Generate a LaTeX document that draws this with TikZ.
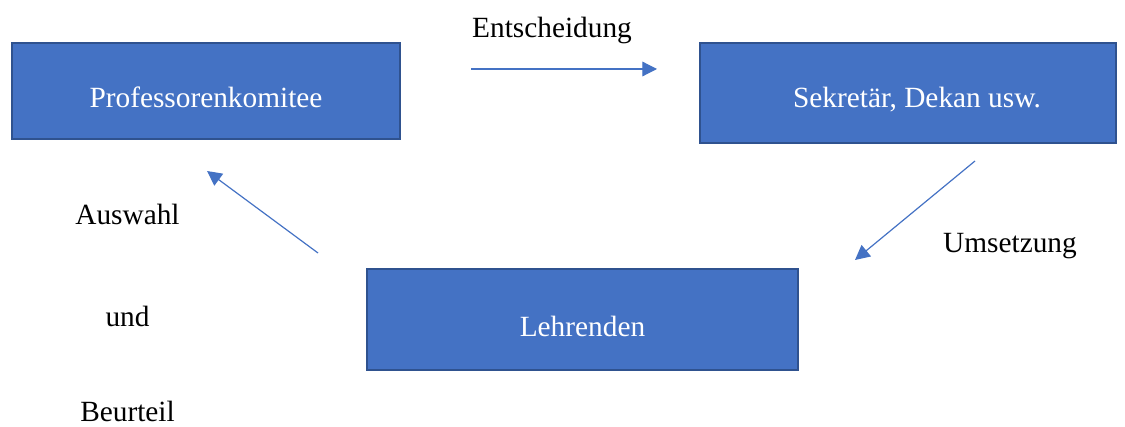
\documentclass[tikz,border=0pt]{standalone}
\usepackage{fontspec}
\setmainfont{Liberation Serif}
\usetikzlibrary{arrows.meta}
\definecolor{boxfill}{HTML}{4472C4}
\definecolor{boxline}{HTML}{2F528F}
\begin{document}
\begin{tikzpicture}[x=0.75pt,y=-0.75pt,
  unit/.style={draw=boxline, line width=1.5pt, fill=boxfill, text=white,
    inner sep=0pt, text depth=0pt, font=\fontsize{22}{26}\selectfont},
  lbl/.style={inner sep=0pt, anchor=base, font=\fontsize{22}{26}\selectfont},
  flow/.style={draw=boxfill, line width=0.9pt,
    -{Triangle[length=11pt,width=11pt]}}]
\useasboundingbox (0,0) rectangle (1125,427);
% the three boxes
\node[unit, text height=25.5pt, minimum width=388*0.75pt, minimum height=96*0.75pt] (prof) at (206,91) {Professorenkomitee};
\node[unit, text height=22.5pt, minimum width=416*0.75pt, minimum height=100*0.75pt] (sek) at (908,93) {\hspace*{13.5pt}Sekretär, Dekan usw.};
\node[unit, text height=25pt, minimum width=431*0.75pt, minimum height=101*0.75pt] (lehr) at (582.5,319.5) {Lehrenden};
% free arrow ends
\coordinate (a1s) at (471,69);
\coordinate (a1e) at (657,69);
\coordinate (a2s) at (975,161);
\coordinate (a2e) at (855,260);
\coordinate (a3s) at (318,253);
\coordinate (a3e) at (207,171);
\draw[flow] (a1s) -- (a1e);
\draw[flow] (a2s) -- (a2e);
\draw[flow] (a3s) -- (a3e);
% labels, placed by baseline
\node[lbl] (ent) at (552,38) {Entscheidung};
\node[lbl] (ums) at (1010,253) {Umsetzung};
\node[lbl] (aus) at (127.5,224.5) {Auswahl};
\node[lbl] (und) at (127.5,327) {und};
\node[lbl] (beu) at (127.5,422) {Beurteil};
\end{tikzpicture}
\end{document}
